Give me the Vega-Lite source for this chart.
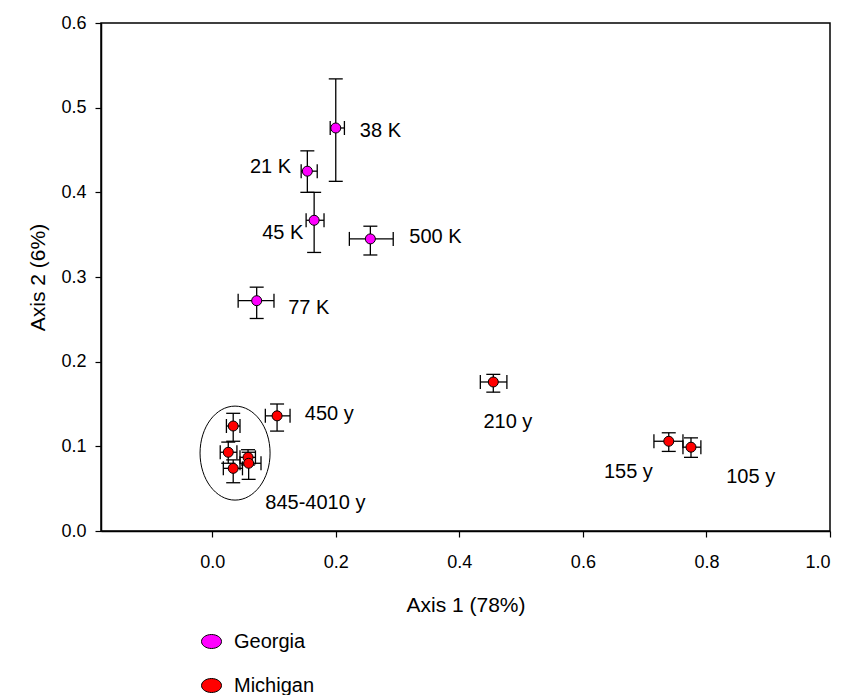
{
  "$schema": "https://vega.github.io/schema/vega-lite/v6.json",
  "width": 729,
  "height": 508,
  "autosize": {"type": "none"},
  "padding": {"left": 101, "top": 23, "right": 26, "bottom": 164},
  "config": {
    "font": "Liberation Sans",
    "view": {"stroke": "black", "strokeWidth": 1.5},
    "axis": {
      "grid": false,
      "domainColor": "black",
      "domainWidth": 1.5,
      "tickColor": "black",
      "tickWidth": 1.2,
      "tickSize": 6,
      "labelColor": "black",
      "labelFontSize": 18,
      "labelFont": "Liberation Sans",
      "titleFont": "Liberation Sans",
      "titleFontSize": 21,
      "titleFontWeight": "normal",
      "titleColor": "black"
    },
    "legend": {
      "labelFont": "Liberation Sans",
      "labelFontSize": 20,
      "labelColor": "black"
    }
  },
  "datasets": {
    "pts": [
      {"site": "Georgia", "name": "38 K", "x": 0.200, "y": 0.476, "xlo": 0.191, "xhi": 0.214, "ylo": 0.413, "yhi": 0.534},
      {"site": "Georgia", "name": "21 K", "x": 0.154, "y": 0.425, "xlo": 0.144, "xhi": 0.170, "ylo": 0.400, "yhi": 0.449},
      {"site": "Georgia", "name": "45 K", "x": 0.165, "y": 0.367, "xlo": 0.152, "xhi": 0.181, "ylo": 0.329, "yhi": 0.400},
      {"site": "Georgia", "name": "500 K", "x": 0.256, "y": 0.345, "xlo": 0.222, "xhi": 0.293, "ylo": 0.326, "yhi": 0.360},
      {"site": "Georgia", "name": "77 K", "x": 0.072, "y": 0.272, "xlo": 0.042, "xhi": 0.100, "ylo": 0.251, "yhi": 0.288},
      {"site": "Michigan", "name": "450 y", "x": 0.105, "y": 0.136, "xlo": 0.086, "xhi": 0.126, "ylo": 0.118, "yhi": 0.150},
      {"site": "Michigan", "name": "210 y", "x": 0.455, "y": 0.176, "xlo": 0.434, "xhi": 0.477, "ylo": 0.164, "yhi": 0.185},
      {"site": "Michigan", "name": "155 y", "x": 0.739, "y": 0.106, "xlo": 0.715, "xhi": 0.762, "ylo": 0.094, "yhi": 0.116},
      {"site": "Michigan", "name": "105 y", "x": 0.775, "y": 0.099, "xlo": 0.762, "xhi": 0.791, "ylo": 0.087, "yhi": 0.110},
      {"site": "Michigan", "name": "A", "x": 0.034, "y": 0.124, "xlo": 0.023, "xhi": 0.045, "ylo": 0.106, "yhi": 0.139},
      {"site": "Michigan", "name": "B", "x": 0.026, "y": 0.093, "xlo": 0.013, "xhi": 0.040, "ylo": 0.080, "yhi": 0.105},
      {"site": "Michigan", "name": "C", "x": 0.034, "y": 0.074, "xlo": 0.018, "xhi": 0.049, "ylo": 0.057, "yhi": 0.084},
      {"site": "Michigan", "name": "D", "x": 0.058, "y": 0.087, "xlo": 0.045, "xhi": 0.070, "ylo": 0.078, "yhi": 0.096},
      {"site": "Michigan", "name": "E", "x": 0.059, "y": 0.080, "xlo": 0.045, "xhi": 0.079, "ylo": 0.061, "yhi": 0.093}
    ],
    "labels": [
      {"text": "38 K", "lx": 0.239, "ly": 0.472},
      {"text": "21 K", "lx": 0.061, "ly": 0.430},
      {"text": "45 K", "lx": 0.081, "ly": 0.352},
      {"text": "500 K", "lx": 0.319, "ly": 0.347},
      {"text": "77 K", "lx": 0.123, "ly": 0.263},
      {"text": "450 y", "lx": 0.150, "ly": 0.138},
      {"text": "210 y", "lx": 0.439, "ly": 0.129},
      {"text": "155 y", "lx": 0.634, "ly": 0.070},
      {"text": "105 y", "lx": 0.832, "ly": 0.064},
      {"text": "845-4010 y", "lx": 0.086, "ly": 0.033}
    ],
    "ellipse": [
      {"cx": 0.037, "cy": 0.092}
    ]
  },
  "layer": [
    {
      "data": {"name": "ellipse"},
      "mark": {"type": "point", "shape": "M -0.745 0 A 0.745 1 0 1 1 0.745 0 A 0.745 1 0 1 1 -0.745 0 Z", "filled": false, "stroke": "black", "strokeWidth": 1, "size": 8836, "opacity": 1},
      "encoding": {
        "x": {"field": "cx", "type": "quantitative", "scale": {"domain": [-0.18, 1.0], "nice": false, "zero": false},
          "axis": {"title": "Axis 1 (78%)", "values": [0, 0.2, 0.4, 0.6, 0.8, 1.0], "format": ".1f", "labelPadding": 16, "titlePadding": 23}},
        "y": {"field": "cy", "type": "quantitative", "scale": {"domain": [0, 0.6], "nice": false, "zero": false},
          "axis": {"title": "Axis 2 (6%)", "values": [0, 0.1, 0.2, 0.3, 0.4, 0.5, 0.6], "format": ".1f", "labelPadding": 9, "titlePadding": 12}}
      }
    },
    {
      "data": {"name": "pts"},
      "mark": {"type": "rule", "color": "black", "strokeWidth": 1.3},
      "encoding": {
        "x": {"field": "x", "type": "quantitative"},
        "y": {"field": "ylo", "type": "quantitative"},
        "y2": {"field": "yhi"}
      }
    },
    {
      "data": {"name": "pts"},
      "mark": {"type": "rule", "color": "black", "strokeWidth": 1.3},
      "encoding": {
        "y": {"field": "y", "type": "quantitative"},
        "x": {"field": "xlo", "type": "quantitative"},
        "x2": {"field": "xhi"}
      }
    },
    {
      "data": {"name": "pts"},
      "mark": {"type": "tick", "orient": "horizontal", "color": "black", "thickness": 1.3, "size": 14, "opacity": 1},
      "encoding": {
        "x": {"field": "x", "type": "quantitative"},
        "y": {"field": "ylo", "type": "quantitative"}
      }
    },
    {
      "data": {"name": "pts"},
      "mark": {"type": "tick", "orient": "horizontal", "color": "black", "thickness": 1.3, "size": 14, "opacity": 1},
      "encoding": {
        "x": {"field": "x", "type": "quantitative"},
        "y": {"field": "yhi", "type": "quantitative"}
      }
    },
    {
      "data": {"name": "pts"},
      "mark": {"type": "tick", "orient": "vertical", "color": "black", "thickness": 1.3, "size": 14, "opacity": 1},
      "encoding": {
        "x": {"field": "xlo", "type": "quantitative"},
        "y": {"field": "y", "type": "quantitative"}
      }
    },
    {
      "data": {"name": "pts"},
      "mark": {"type": "tick", "orient": "vertical", "color": "black", "thickness": 1.3, "size": 14, "opacity": 1},
      "encoding": {
        "x": {"field": "xhi", "type": "quantitative"},
        "y": {"field": "y", "type": "quantitative"}
      }
    },
    {
      "data": {"name": "pts"},
      "mark": {"type": "point", "shape": "circle", "filled": true, "size": 100, "stroke": "black", "strokeWidth": 1, "opacity": 1},
      "encoding": {
        "x": {"field": "x", "type": "quantitative"},
        "y": {"field": "y", "type": "quantitative"},
        "fill": {"field": "site", "type": "nominal",
          "scale": {"domain": ["Georgia", "Michigan"], "range": ["#FF00FF", "#FF0000"]},
          "legend": {"title": null, "orient": "none", "legendX": 100, "legendY": 608, "padding": 0,
            "symbolType": "M -1 0 A 1 0.7 0 1 1 1 0 A 1 0.7 0 1 1 -1 0 Z",
            "symbolSize": 400, "symbolStrokeColor": "black", "symbolStrokeWidth": 1, "symbolOpacity": 1,
            "labelOffset": 12, "rowPadding": 23}}
      }
    },
    {
      "data": {"name": "labels"},
      "mark": {"type": "text", "align": "left", "baseline": "middle", "fontSize": 20, "font": "Liberation Sans", "color": "black"},
      "encoding": {
        "x": {"field": "lx", "type": "quantitative"},
        "y": {"field": "ly", "type": "quantitative"},
        "text": {"field": "text"}
      }
    }
  ]
}
